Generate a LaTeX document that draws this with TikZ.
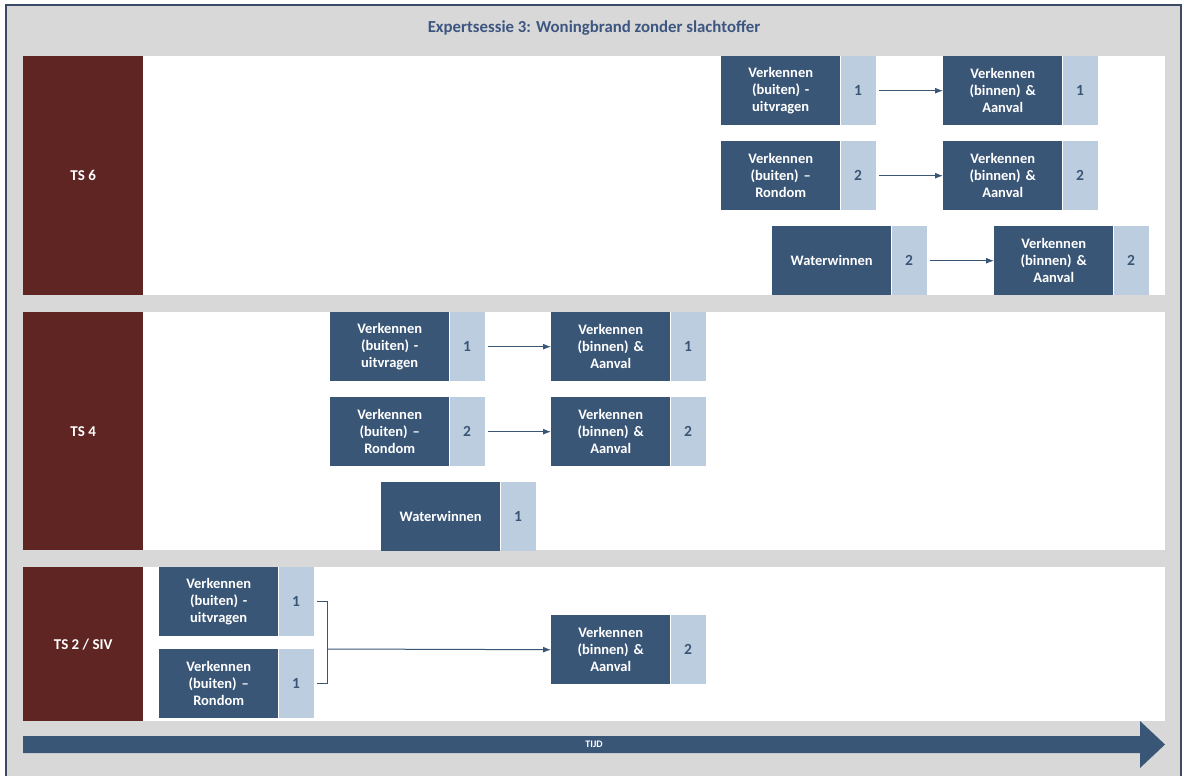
\documentclass[tikz,border=0pt]{standalone}
\usepackage{fontspec}
\setmainfont{Carlito}
\usetikzlibrary{arrows.meta}
\definecolor{bgray}{HTML}{D8D8D8}
\definecolor{dblue}{HTML}{3A5677}
\definecolor{lblue}{HTML}{BDCDE0}
\definecolor{dred}{HTML}{5F2522}
\definecolor{fline}{HTML}{3C4A66}
\definecolor{ttl}{HTML}{3D5680}
\tikzset{
  darkbox/.style={fill=dblue, text=white, minimum width=119pt, minimum height=69pt, inner sep=0pt, anchor=north west, text width=114pt, align=center, font=\bfseries\fontsize{14.5}{17}\selectfont},
  numbox/.style={fill=lblue, text=dblue, minimum width=35pt, minimum height=69pt, inner sep=0pt, anchor=north west, font=\bfseries\fontsize{15.5}{17}\selectfont},
  lane/.style={fill=white, anchor=north west, inner sep=0pt, minimum width=1142pt},
  lanelab/.style={fill=dred, text=white, anchor=north west, inner sep=0pt, minimum width=120pt, font=\bfseries\fontsize{15}{17}\selectfont},
  conn/.style={draw=dblue, line width=1pt, -{Latex[length=8pt,width=6pt]}},
  plain/.style={draw=dblue, line width=1pt},
}
\newcommand{\pbx}[5]{%
  \node[darkbox] (#1) at (#2,#3) {#4};
  \node[numbox] (#1n) at (#1.north east) {#5};
}
\begin{document}
\begin{tikzpicture}[x=1pt,y=-1pt]
\useasboundingbox (0,0) rectangle (1184,776);
\fill[bgray] (6,5) rectangle (1181,776);
\draw[fline, line width=1.3pt] (6,776) -- (6,5) -- (1181,5) -- (1181,776);
\node[text=ttl, font=\bfseries\fontsize{16.8}{18}\selectfont] (title) at (594,28) {Expertsessie 3: Woningbrand zonder slachtoffer};
% lanes
\node[lane, minimum height=239pt] (lane6) at (23,56) {};
\node[lanelab, minimum height=239pt] (ts6) at (23,56) {TS 6};
\node[lane, minimum height=238pt] (lane4) at (23,312) {};
\node[lanelab, minimum height=238pt] (ts4) at (23,312) {TS 4};
\node[lane, minimum height=154pt] (lane2) at (23,567) {};
\node[lanelab, minimum height=154pt] (ts2) at (23,567) {TS 2 / SIV};
% TS6
\pbx{a1}{721}{56}{Verkennen\\(buiten) -\\uitvragen}{1}
\pbx{b1}{943}{56}{Verkennen\\(binnen) \&\\Aanval}{1}
\pbx{a2}{721}{141}{Verkennen\\(buiten) –\\Rondom}{2}
\pbx{b2}{943}{141}{Verkennen\\(binnen) \&\\Aanval}{2}
\pbx{w6}{772}{226}{Waterwinnen}{2}
\pbx{b3}{994}{226}{Verkennen\\(binnen) \&\\Aanval}{2}
\draw[conn] ([xshift=3pt]a1n.east) -- (b1.west);
\draw[conn] ([xshift=3pt]a2n.east) -- (b2.west);
\draw[conn] ([xshift=3pt]w6n.east) -- (b3.west);
% TS4
\pbx{c1}{330}{312}{Verkennen\\(buiten) -\\uitvragen}{1}
\pbx{d1}{551}{312}{Verkennen\\(binnen) \&\\Aanval}{1}
\pbx{c2}{330}{397}{Verkennen\\(buiten) –\\Rondom}{2}
\pbx{d2}{551}{397}{Verkennen\\(binnen) \&\\Aanval}{2}
\pbx{w4}{381}{482}{Waterwinnen}{1}
\draw[conn] ([xshift=3pt]c1n.east) -- (d1.west);
\draw[conn] ([xshift=3pt]c2n.east) -- (d2.west);
% TS2
\pbx{e1}{159}{567}{Verkennen\\(buiten) -\\uitvragen}{1}
\pbx{e2}{159}{649}{Verkennen\\(buiten) –\\Rondom}{1}
\pbx{f1}{551}{615}{Verkennen\\(binnen) \&\\Aanval}{2}
\coordinate (j) at (327,649);
\draw[plain] ([xshift=3pt]e1n.east) -| (j);
\draw[plain] ([xshift=3pt]e2n.east) -| (j);
\draw[conn] (j) -- (f1.west);
% time arrow
\fill[dblue] (23,736) -- (1140,736) -- (1140,721) -- (1165,744.5) -- (1140,768) -- (1140,753) -- (23,753) -- cycle;
\node[text=white, font=\bfseries\fontsize{10}{11}\selectfont] (tijd) at (594,744.5) {TIJD};
\end{tikzpicture}
\end{document}
